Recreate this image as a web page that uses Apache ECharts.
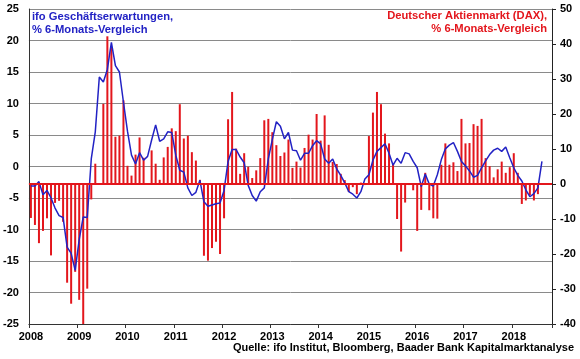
<!DOCTYPE html>
<html><head><meta charset="utf-8">
<script src="https://cdn.jsdelivr.net/npm/echarts@6/dist/echarts.min.js"></script>
<style>html,body{margin:0;padding:0;background:#fff}#c{width:580px;height:359px}</style>
</head><body><div id="c"></div>
<script>
// Monthly categories Jan 2008 .. Oct 2018
const categories = [
 "2008-01","2008-02","2008-03","2008-04","2008-05","2008-06","2008-07","2008-08","2008-09","2008-10","2008-11","2008-12",
 "2009-01","2009-02","2009-03","2009-04","2009-05","2009-06","2009-07","2009-08","2009-09","2009-10","2009-11","2009-12",
 "2010-01","2010-02","2010-03","2010-04","2010-05","2010-06","2010-07","2010-08","2010-09","2010-10","2010-11","2010-12",
 "2011-01","2011-02","2011-03","2011-04","2011-05","2011-06","2011-07","2011-08","2011-09","2011-10","2011-11","2011-12",
 "2012-01","2012-02","2012-03","2012-04","2012-05","2012-06","2012-07","2012-08","2012-09","2012-10","2012-11","2012-12",
 "2013-01","2013-02","2013-03","2013-04","2013-05","2013-06","2013-07","2013-08","2013-09","2013-10","2013-11","2013-12",
 "2014-01","2014-02","2014-03","2014-04","2014-05","2014-06","2014-07","2014-08","2014-09","2014-10","2014-11","2014-12",
 "2015-01","2015-02","2015-03","2015-04","2015-05","2015-06","2015-07","2015-08","2015-09","2015-10","2015-11","2015-12",
 "2016-01","2016-02","2016-03","2016-04","2016-05","2016-06","2016-07","2016-08","2016-09","2016-10","2016-11","2016-12",
 "2017-01","2017-02","2017-03","2017-04","2017-05","2017-06","2017-07","2017-08","2017-09","2017-10","2017-11","2017-12",
 "2018-01","2018-02","2018-03","2018-04","2018-05","2018-06","2018-07","2018-08","2018-09","2018-10"
];
const yearLabels = ["2008","2009","2010","2011","2012","2013","2014","2015","2016","2017","2018"];

// ifo Geschäftserwartungen, % 6-Monats-Vergleich (left axis)
const ifoExpectations = [
 -3.1,-3.1,-2.4,-4.5,-3.8,-5.0,-6.6,-7.8,-8.1,-12.8,-13.8,-16.5,
 -11.6,-8.0,-8.1,1.2,5.5,14.2,13.4,15.4,19.7,16.0,15.0,10.2,
 5.6,1.8,0.4,2.2,1.0,1.6,4.2,6.6,4.0,4.4,5.5,5.4,
 1.8,-0.6,-0.9,-3.4,-4.6,-4.1,-2.2,-5.6,-6.3,-6.1,-5.9,-5.8,
 -3.8,0.8,2.7,2.7,1.5,0.6,-3.0,-4.6,-5.5,-4.0,-3.4,1.2,
 4.3,7.1,6.4,4.4,5.4,2.6,2.5,1.0,2.1,2.1,3.3,4.1,
 3.6,1.2,0.5,1.2,-0.4,-1.4,-2.6,-4.0,-4.4,-5.0,-4.0,-2.0,
 -1.3,1.0,2.4,3.0,3.6,2.1,0.2,1.3,0.5,2.2,2.0,0.8,
 -0.2,-3.2,-1.2,-2.8,-3.1,-1.3,1.1,2.8,3.4,3.8,2.4,0.8,
 0.1,-0.7,-1.7,-1.4,-0.2,0.9,1.9,2.6,2.9,2.4,3.1,1.4,
 -0.2,-1.4,-2.3,-3.7,-4.8,-4.3,-3.4,0.8
];

// Deutscher Aktienmarkt (DAX), % 6-Monats-Vergleich (right axis)
const daxChange = [
 -9.7,-11.7,-16.9,-13.4,-9.8,-20.4,-5.4,-4.8,-10.8,-28.2,-34.2,-25.1,
 -33.1,-40.1,-29.9,-4.4,5.8,0.0,22.9,42.2,38.9,13.5,13.8,23.9,
 5.2,2.4,8.4,13.3,7.5,0.2,9.6,5.8,1.2,7.6,10.6,15.9,
 15.1,22.8,13.0,13.8,9.1,6.7,1.2,-20.5,-21.9,-18.3,-16.5,-20.0,
 -9.8,18.5,26.3,10.1,2.9,8.8,4.9,1.7,3.9,7.4,18.2,18.6,
 14.8,11.1,8.0,9.0,12.7,4.6,6.4,4.7,10.3,14.1,12.7,20.0,
 12.4,19.6,11.2,6.3,5.7,2.9,1.1,-2.3,-0.9,-2.9,0.4,-0.3,
 13.7,20.4,26.3,22.8,14.4,11.6,5.8,-10.0,-19.3,-5.3,-0.3,-1.8,
 -13.4,-7.4,3.2,-7.5,-9.8,-9.9,5.5,11.6,5.5,6.2,3.7,18.6,
 11.6,11.7,17.1,16.6,18.6,7.4,5.1,1.9,4.2,6.4,3.2,4.8,
 8.8,3.2,-5.7,-4.7,-3.2,-4.7,-2.9
];

const leftAxisRange = [-25, 25, 5];
const rightAxisRange = [-40, 50, 10];

const FONT = '"Liberation Sans", Arial, sans-serif';
const BLUE = '#2222c4';
const RED = '#e3161c';

const chart = echarts.init(document.getElementById('c'), null, {renderer: 'canvas'});
chart.setOption({
  animation: false,
  backgroundColor: '#fff',
  grid: {left: 27, right: 28, top: 9, bottom: 35, containLabel: false},
  xAxis: {
    type: 'category', data: categories, boundaryGap: true,
    axisLine: {show: true, onZero: false, lineStyle: {color: '#333', width: 1}},
    axisTick: {show: true, interval: 11, length: 4, lineStyle: {color: '#333'}},
    axisLabel: {interval: 11, margin: 7, fontSize: 11, fontWeight: 'bold', color: '#000', fontFamily: FONT,
      formatter: (v, i) => yearLabels[Math.round(i / 12)] || v.slice(0, 4)},
    splitLine: {show: false}
  },
  yAxis: [
    {type: 'value', position: 'left', min: leftAxisRange[0], max: leftAxisRange[1], interval: leftAxisRange[2],
     axisLine: {show: true, onZero: false, lineStyle: {color: '#333'}},
     axisTick: {show: false},
     axisLabel: {margin: 10, fontSize: 11, fontWeight: 'bold', color: '#000', fontFamily: FONT},
     splitLine: {show: true, lineStyle: {color: '#8a8a8a', width: 1}}},
    {type: 'value', position: 'right', min: rightAxisRange[0], max: rightAxisRange[1], interval: rightAxisRange[2],
     axisLine: {show: true, onZero: false, lineStyle: {color: '#222'}},
     axisTick: {show: true, length: 4, lineStyle: {color: '#222'}},
     axisLabel: {margin: 8, fontSize: 11, fontWeight: 'bold', color: '#000', fontFamily: FONT},
     splitLine: {show: false}}
  ],
  series: [
    {type: 'bar', name: 'DAX', yAxisIndex: 1, data: daxChange, barWidth: 2,
     itemStyle: {color: RED},
     markLine: {silent: true, symbol: 'none', label: {show: false},
       lineStyle: {color: RED, width: 2, type: 'solid'}, data: [{yAxis: 0}]}},
    {type: 'line', name: 'ifo', yAxisIndex: 0, data: ifoExpectations, showSymbol: false, symbol: 'none',
     lineStyle: {color: BLUE, width: 1.5}, itemStyle: {color: BLUE}, z: 3}
  ],
  graphic: [
    {type: 'text', left: 32, top: 10, z: 10,
     style: {text: 'ifo Geschäftserwartungen,\n% 6-Monats-Vergleich', fill: BLUE,
       font: 'bold 11.2px ' + FONT, lineHeight: 13}},
    {type: 'text', right: 33, top: 10, z: 10,
     style: {text: 'Deutscher Aktienmarkt (DAX),', fill: RED, font: 'bold 11.2px ' + FONT}},
    {type: 'text', right: 33, top: 23, z: 10,
     style: {text: '% 6-Monats-Vergleich', fill: RED, font: 'bold 11.2px ' + FONT}},
    {type: 'text', right: 6, top: 342, z: 10,
     style: {text: 'Quelle: ifo Institut, Bloomberg, Baader Bank Kapitalmarktanalyse', fill: '#000',
       font: 'bold 11px ' + FONT}}
  ]
});
</script>
</body></html>
